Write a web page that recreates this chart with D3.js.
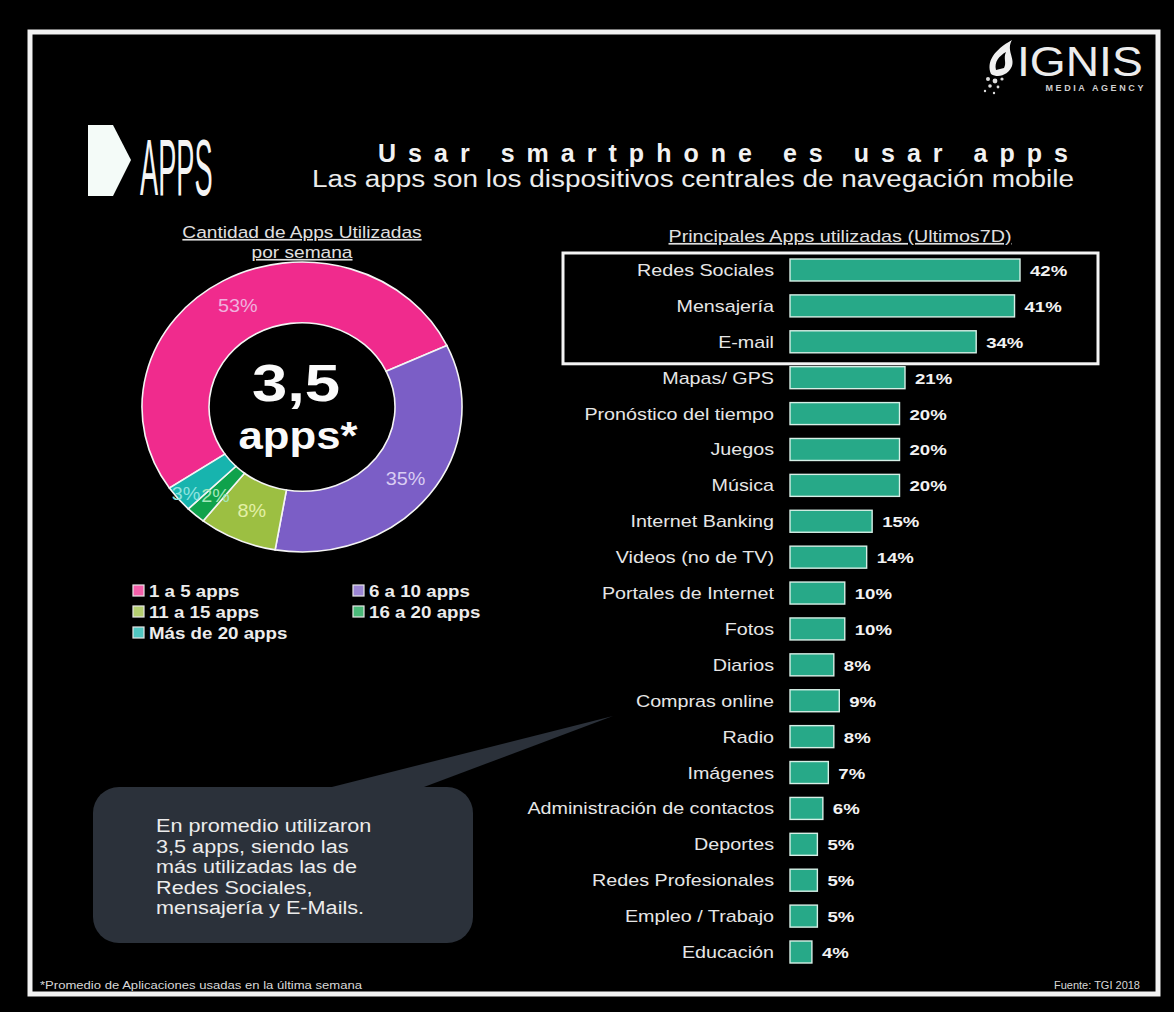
<!DOCTYPE html>
<html>
<head>
<meta charset="utf-8">
<script src="https://cdn.jsdelivr.net/npm/d3@7"></script>
<style>
  html, body { margin: 0; padding: 0; background: #000; }
  svg { display: block; }
</style>
</head>
<body>
<script>
// Cantidad de apps utilizadas por semana (donut)
const appCountCategories = ["1 a 5 apps", "6 a 10 apps", "11 a 15 apps", "16 a 20 apps", "Más de 20 apps"];
const appCountValues = [53, 35, 8, 2, 3];
const appCountColors = ["#f02b8d", "#7b5ec6", "#9cbf42", "#0fa24c", "#17b4ae"];
const appCountLabelColors = ["#f0b0de", "#d9cdf3", "#e3f0a6", "#a3e8bb", "#8ee3df"];
const averageApps = "3,5";

// Principales apps utilizadas (últimos 7 días)
const appNames = [
  "Redes Sociales", "Mensajería", "E-mail", "Mapas/ GPS", "Pronóstico del tiempo",
  "Juegos", "Música", "Internet Banking", "Videos (no de TV)", "Portales de Internet",
  "Fotos", "Diarios", "Compras online", "Radio", "Imágenes",
  "Administración de contactos", "Deportes", "Redes Profesionales", "Empleo / Trabajo", "Educación"
];
const appShares = [42, 41, 34, 21, 20, 20, 20, 15, 14, 10, 10, 8, 9, 8, 7, 6, 5, 5, 5, 4];
const highlightedApps = ["Redes Sociales", "Mensajería", "E-mail"];

const calloutLines = [
  "En promedio utilizaron",
  "3,5 apps, siendo las",
  "más utilizadas las de",
  "Redes Sociales,",
  "mensajería y E-Mails."
];

const W = 1174, H = 1012;
const FONT = "'Liberation Sans', Arial, Helvetica, sans-serif";
const SX = 1.16; // slightly wide lettering

const svg = d3.select("body").append("svg")
  .attr("width", W).attr("height", H)
  .style("background", "#000");

// stretched text helper
function label(parent, x, y, str, o = {}) {
  const t = parent.append("text")
    .attr("transform", `translate(${x},${y}) scale(${o.sx ?? SX},1)`)
    .attr("text-anchor", o.anchor || "start")
    .attr("font-family", o.family || FONT)
    .attr("font-size", o.size || 16)
    .attr("font-weight", o.weight || "normal")
    .attr("fill", o.fill || "#e8e8e8")
    .text(str);
  if (o.underline) t.style("text-decoration", "underline");
  return t;
}

// frame
svg.append("rect")
  .attr("x", 30).attr("y", 32).attr("width", 1128).attr("height", 962)
  .attr("fill", "#000").attr("stroke", "#f2f2f2").attr("stroke-width", 5);

// ---- header: APPS mark ----
svg.append("path")
  .attr("d", "M88,125 L113,125 L131,160 L113,196 L88,196 Z")
  .attr("fill", "#f4fbf8");
label(svg, 140, 195, "APPS", { size: 80, sx: 0.34, fill: "#f4f4f4" });

// ---- header: IGNIS brand ----
const brand = svg.append("g");
brand.append("path")
  .attr("d", "M991,74 C986,62 994,50 1012,40 C1006,50 1015,58 1012,66 C1009,74 999,79 991,74 Z")
  .attr("fill", "#f0f0f0");
brand.append("path")
  .attr("d", "M996,70 C994,62 999,56 1006,52 C1003,58 1007,63 1004,68 Z")
  .attr("fill", "#000");
[[988, 79, 2], [995, 81, 2.4], [1002, 79, 1.6], [990, 86, 1.8], [998, 87, 1.4], [985, 91, 1.2], [994, 93, 1.2]]
  .forEach(([x, y, r]) => brand.append("circle").attr("cx", x).attr("cy", y).attr("r", r).attr("fill", "#ddd"));
label(brand, 1017, 76, "IGNIS", { size: 42, sx: 1.1, fill: "#ececec" });
label(brand, 1146, 91, "MEDIA AGENCY", { size: 9, weight: "bold", anchor: "end", sx: 1, fill: "#cfcfcf" })
  .attr("letter-spacing", 2.6);

// ---- header: titles ----
svg.append("text")
  .attr("x", 378).attr("y", 162)
  .attr("font-family", FONT).attr("font-size", 25).attr("font-weight", "bold")
  .attr("fill", "#f2f2f2")
  .attr("textLength", 690).attr("lengthAdjust", "spacing")
  .text("Usar smartphone es usar apps");
svg.append("text")
  .attr("x", 312).attr("y", 187)
  .attr("font-family", FONT).attr("font-size", 23)
  .attr("fill", "#ececec")
  .attr("textLength", 762).attr("lengthAdjust", "spacingAndGlyphs")
  .text("Las apps son los dispositivos centrales de navegación mobile");

// ---- donut ----
const cx = 302, cy = 407, rOuter = 160, rInner = 93, yScale = 0.906;
label(svg, 302, 238, "Cantidad de Apps Utilizadas", { size: 16.5, anchor: "middle", underline: true, fill: "#e0e0e0" });
label(svg, 302, 258, "por semana", { size: 16.5, anchor: "middle", underline: true, fill: "#e0e0e0" });

const start = -124 * Math.PI / 180;
const pie = d3.pie().sort(null).value(d => d).startAngle(start).endAngle(start + 2 * Math.PI);
const arcs = pie(appCountValues);
const arc = d3.arc().innerRadius(rInner).outerRadius(rOuter);

const donut = svg.append("g").attr("transform", `translate(${cx},${cy}) scale(1,${yScale})`);
donut.selectAll("path.slice")
  .data(arcs)
  .join("path")
  .attr("class", "slice")
  .attr("d", arc)
  .attr("fill", (d, i) => appCountColors[i])
  .attr("stroke", "#f4f4f4")
  .attr("stroke-width", 1.6)
  .attr("vector-effect", "non-scaling-stroke");

// slice labels: the thinnest slice sits on a wider ring
const labelRadius = i => (appCountCategories[i] === "Más de 20 apps" ? 150 : appCountCategories[i] === "11 a 15 apps" ? 124 : 130);
arcs.forEach((d, i) => {
  const a = (d.startAngle + d.endAngle) / 2;
  const r = labelRadius(i);
  const x = cx + r * Math.sin(a);
  const y = cy - r * Math.cos(a) * yScale;
  label(svg, x, y + 7, d.data + "%", { size: 18, anchor: "middle", sx: 1.1, fill: appCountLabelColors[i] });
});

label(svg, 296, 401, averageApps, { size: 52, weight: "bold", anchor: "middle", sx: 1.22, fill: "#fafafa" });
label(svg, 298, 449, "apps*", { size: 39, weight: "bold", anchor: "middle", sx: 1.12, fill: "#fafafa" });

// legend
const legendPos = [[133, 591], [353, 591], [133, 612], [353, 612], [133, 633]];
const legend = svg.append("g");
appCountCategories.forEach((c, i) => {
  const [lx, ly] = legendPos[i];
  legend.append("rect")
    .attr("x", lx).attr("y", ly - 6).attr("width", 11).attr("height", 11)
    .attr("fill", d3.interpolateRgb(appCountColors[i], "#ffffff")(0.25))
    .attr("stroke", "#e6e6e6").attr("stroke-width", 1.2);
  label(legend, lx + 16, ly + 6, c, { size: 16, weight: "bold", sx: 1.17, fill: "#ececec" });
});

// ---- bars ----
const barX0 = 790;
const x = d3.scaleLinear().domain([0, 42]).range([0, 230]);
const y = d3.scalePoint().domain(appNames).range([270, 952]);
const barH = 22;

label(svg, 840, 242, "Principales Apps utilizadas (Ultimos7D)", { size: 17, anchor: "middle", underline: true, fill: "#e0e0e0" });

// highlight box around the top three apps
const hiTop = y(highlightedApps[0]) - 17;
const hiBottom = y(highlightedApps[highlightedApps.length - 1]) + 22;
svg.append("rect")
  .attr("x", 563).attr("y", hiTop).attr("width", 535).attr("height", hiBottom - hiTop)
  .attr("fill", "none").attr("stroke", "#f4f4f4").attr("stroke-width", 3);

const bars = svg.append("g");
bars.selectAll("rect")
  .data(appNames)
  .join("rect")
  .attr("x", barX0)
  .attr("y", d => y(d) - barH / 2)
  .attr("width", (d, i) => x(appShares[i]))
  .attr("height", barH)
  .attr("fill", "#27a988")
  .attr("stroke", "#d6efe6")
  .attr("stroke-width", 1.4);

appNames.forEach((n, i) => {
  label(bars, 774, y(n) + 6, n, { size: 17, anchor: "end", fill: "#e6e6e6" });
  label(bars, barX0 + x(appShares[i]) + 10, y(n) + 6, appShares[i] + "%", { size: 15.5, weight: "bold", sx: 1.2, fill: "#f2f2f2" });
});

// ---- callout ----
const callout = svg.append("g");
callout.append("path")
  .attr("d", "M320,790 L613,716 L416,790 Z")
  .attr("fill", "#2b313a");
callout.append("rect")
  .attr("x", 93).attr("y", 787).attr("width", 380).attr("height", 156)
  .attr("rx", 26).attr("ry", 26)
  .attr("fill", "#2b313a");
calloutLines.forEach((t, i) => {
  label(callout, 156, 832 + i * 20.5, t, { size: 19, sx: 1.14, fill: "#ececec" });
});

// ---- footer ----
svg.append("text")
  .attr("x", 40).attr("y", 989)
  .attr("font-family", FONT).attr("font-size", 11).attr("fill", "#d8d8d8")
  .attr("textLength", 322).attr("lengthAdjust", "spacingAndGlyphs")
  .text("*Promedio de Aplicaciones usadas en la última semana");
svg.append("text")
  .attr("x", 1140).attr("y", 989).attr("text-anchor", "end")
  .attr("font-family", FONT).attr("font-size", 11).attr("fill", "#d8d8d8")
  .text("Fuente: TGI 2018");
</script>
</body>
</html>
